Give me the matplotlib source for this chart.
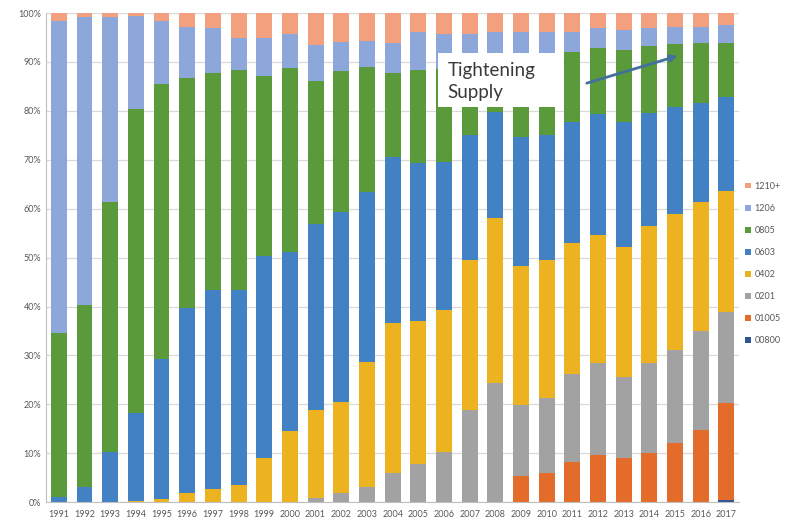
import numpy as np
import matplotlib.pyplot as plt
from matplotlib.patches import Rectangle

plt.rcParams['font.family'] = ['Lato', 'DejaVu Sans']

years = [str(y) for y in range(1991, 2018)]

# share of each case size per year (%), bottom to top of the stack
s00800 = [0, 0, 0, 0, 0, 0, 0, 0, 0, 0, 0, 0, 0, 0, 0, 0, 0, 0, 0, 0, 0, 0, 0, 0, 0, 0, 0.5]
s01005 = [0, 0, 0, 0, 0, 0, 0, 0, 0, 0, 0, 0, 0, 0, 0, 0, 0, 0, 5.4, 5.9, 8.2, 9.6, 9.1, 10.1, 12.0, 14.7, 19.7]
s0201 = [0, 0, 0, 0, 0, 0, 0, 0, 0, 0, 0.9, 1.8, 3.1, 5.9, 7.8, 10.3, 18.8, 24.3, 14.4, 15.4, 18.1, 18.8, 16.5, 18.4, 19.1, 20.3, 18.7]
s0402 = [0, 0, 0, 0.3, 0.7, 1.8, 2.7, 3.5, 9.1, 14.6, 17.9, 18.6, 25.6, 30.8, 29.3, 29.0, 30.7, 33.7, 28.5, 28.3, 26.6, 26.2, 26.6, 27.9, 27.9, 26.4, 24.8]
s0603 = [1.1, 3.0, 10.2, 18.0, 28.5, 37.8, 40.7, 39.9, 41.2, 36.5, 38.0, 39.0, 34.8, 33.9, 32.2, 30.2, 25.6, 21.8, 26.4, 25.5, 24.9, 24.7, 25.6, 23.1, 21.7, 20.3, 19.2]
s0805 = [33.4, 37.3, 51.1, 62.0, 56.2, 47.2, 44.3, 44.9, 36.8, 37.6, 29.3, 28.7, 25.5, 17.1, 19.0, 19.0, 13.9, 9.7, 15.3, 15.4, 14.3, 13.5, 14.6, 13.8, 12.9, 12.1, 11.0]
s1206 = [63.9, 58.8, 37.8, 19.1, 13.0, 10.3, 9.2, 6.7, 7.7, 7.1, 7.4, 6.0, 5.3, 6.1, 7.9, 7.3, 6.8, 6.7, 6.2, 5.7, 4.1, 4.1, 4.1, 3.6, 3.5, 3.4, 3.6]
s1210 = [1.6, 0.9, 0.9, 0.6, 1.6, 2.9, 3.1, 5.0, 5.2, 4.2, 6.5, 5.9, 5.7, 6.2, 3.8, 4.2, 4.2, 3.8, 3.8, 3.8, 3.8, 3.1, 3.5, 3.1, 2.9, 2.8, 2.5]

series = [
    ('00800', s00800, '#2F5597'),
    ('01005', s01005, '#E46C2A'),
    ('0201', s0201, '#A2A2A2'),
    ('0402', s0402, '#EDB220'),
    ('0603', s0603, '#4281C3'),
    ('0805', s0805, '#5B9A3A'),
    ('1206', s1206, '#8EA7DB'),
    ('1210+', s1210, '#F3A07F'),
]

fig = plt.figure(figsize=(8.07, 5.22), dpi=100)
ax = fig.add_axes([0.057, 0.038, 0.859, 0.937])

x = np.arange(len(years))
bottom = np.zeros(len(years))
handles = []
for name, vals, color in series:
    vals = np.array(vals)
    b = ax.bar(x, vals, 0.62, bottom=bottom, color=color, label=name, zorder=2)
    handles.append(b)
    bottom += vals

ax.set_xlim(-0.5, len(years) - 0.5)
ax.set_ylim(0, 100)
ax.set_yticks(np.arange(0, 101, 10))
ax.set_yticklabels([f'{v}%' for v in range(0, 101, 10)])
ax.set_xticks(x)
ax.set_xticklabels(years)
ax.tick_params(axis='both', length=0, labelsize=6.5, colors='#595959')
ax.tick_params(axis='x', pad=6)
ax.grid(axis='y', color='#D9D9D9', linewidth=0.9, zorder=0)
for side in ['top', 'right']:
    ax.spines[side].set_visible(False)
for side in ['left', 'bottom']:
    ax.spines[side].set_color('#BFBFBF')

# callout box and arrow
ax.add_patch(Rectangle((14.77, 80.8), 4.87, 11.0, facecolor='white',
                       edgecolor='none', zorder=4))
ax.text(15.15, 86.0, 'Tightening\nSupply', fontsize=13.5, color='#3A3A3A',
        va='center', ha='left', linespacing=1.4, zorder=5)
ax.annotate('', xy=(24.2, 91.4), xytext=(20.46, 85.5),
            arrowprops=dict(arrowstyle='-|>', color='#41719C', lw=2,
                            mutation_scale=10), zorder=5)

leg = fig.legend(handles[::-1], [s[0] for s in series][::-1],
                 loc='center left', bbox_to_anchor=(0.918, 0.495),
                 frameon=False, fontsize=6.5, labelspacing=1.45,
                 handlelength=0.6, handleheight=0.6, handletextpad=0.4,
                 borderpad=0)
for t in leg.get_texts():
    t.set_color('#595959')

fig.savefig('out.png', dpi=100)
